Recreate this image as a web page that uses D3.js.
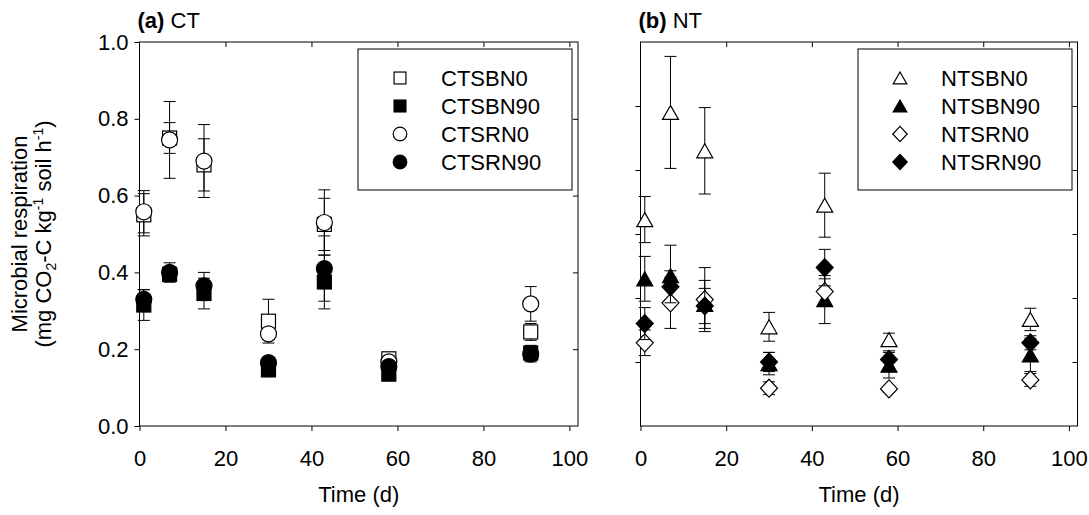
<!DOCTYPE html>
<html><head><meta charset="utf-8">
<script src="https://cdnjs.cloudflare.com/ajax/libs/d3/7.8.5/d3.min.js"></script>
<style>
html,body{margin:0;padding:0;background:#fff;}
svg{display:block;font-family:"Liberation Sans",Arial,sans-serif;}
</style></head>
<body><svg id="c" width="1089" height="515"></svg>
<script>
// ---- data ----
const days = [1, 7, 15, 30, 43, 58, 91];
const xTicks = [0, 20, 40, 60, 80, 100];
const yTicksA = [0, 0.2, 0.4, 0.6, 0.8, 1.0];
const yTicksB = [0.2, 0.4, 0.6, 0.8, 1.0];

const ctNames = ["CTSBN0", "CTSBN90", "CTSRN0", "CTSRN90"];
const CTSBN0 = [0.55, 0.75, 0.68, 0.273, 0.525, 0.175, 0.245];
const CTSBN0_se = [0.055, 0.04, 0.068, 0.057, 0.068, 0.01, 0.022];
const CTSBN90 = [0.315, 0.395, 0.345, 0.146, 0.375, 0.135, 0.19];
const CTSBN90_se = [0.04, 0.02, 0.04, 0.01, 0.07, 0.01, 0.02];
const CTSRN0 = [0.558, 0.745, 0.69, 0.24, 0.53, 0.167, 0.318];
const CTSRN0_se = [0.055, 0.1, 0.095, 0.01, 0.085, 0.01, 0.045];
const CTSRN90 = [0.33, 0.40, 0.365, 0.165, 0.41, 0.155, 0.187];
const CTSRN90_se = [0.025, 0.025, 0.035, 0.01, 0.085, 0.01, 0.02];

const ntNames = ["NTSBN0", "NTSBN90", "NTSRN0", "NTSRN90"];
const NTSBN0 = [0.645, 0.98, 0.86, 0.31, 0.69, 0.27, 0.333];
const NTSBN0_se = [0.072, 0.175, 0.135, 0.045, 0.1, 0.02, 0.035];
const NTSBN90 = [0.46, 0.47, 0.38, 0.195, 0.395, 0.19, 0.222];
const NTSBN90_se = [0.07, 0.095, 0.075, 0.035, 0.075, 0.04, 0.052];
const NTSRN0 = [0.26, 0.385, 0.395, 0.118, 0.42, 0.116, 0.144];
const NTSRN0_se = [0.04, 0.08, 0.1, 0.02, 0.04, 0.01, 0.02];
const NTSRN90 = [0.32, 0.435, 0.375, 0.2, 0.495, 0.208, 0.26];
const NTSRN90_se = [0.05, 0.05, 0.055, 0.03, 0.057, 0.027, 0.022];

// ---- drawing ----
const svg = d3.select("#c");
const FS = 22;
const plotTop = 42, plotBottom = 426;

function marker(g, type, fill, s) {
  let el;
  if (type === "square") {
    el = g.append("rect").attr("x", -7 * s).attr("y", -7 * s).attr("width", 14 * s).attr("height", 14 * s);
  } else if (type === "circle") {
    el = g.append("circle").attr("r", 8 * s);
  } else if (type === "triangle") {
    el = g.append("path").attr("d", `M0,${-7 * s}L${8 * s},${7 * s}L${-8 * s},${7 * s}Z`);
  } else {
    el = g.append("path").attr("d", `M0,${-9 * s}L${8.5 * s},0L0,${9 * s}L${-8.5 * s},0Z`);
  }
  el.attr("fill", fill).attr("stroke", "#000").attr("stroke-width", 1.2);
}

function panel(opts) {
  const x = d3.scaleLinear().domain([0, 102]).range(opts.xr);
  const y = d3.scaleLinear().domain(opts.yd).range([plotBottom, plotTop]);
  const g = svg.append("g");
  const ax = g.append("g").attr("transform", `translate(0,${plotBottom})`)
    .call(d3.axisBottom(x).tickValues(xTicks).tickSize(5).tickPadding(19).tickFormat(d3.format("d")));
  const axT = g.append("g").attr("transform", `translate(0,${plotTop})`)
    .call(d3.axisBottom(x).tickValues(xTicks.filter(d => d > 0)).tickSize(5).tickFormat(""));
  const ay = g.append("g").attr("transform", `translate(${opts.xr[0]},0)`)
    .call(d3.axisLeft(y).tickValues(opts.yTicks).tickSize(5).tickPadding(6)
      .tickFormat(opts.labels ? d3.format(".1f") : ""));
  const ayR = g.append("g").attr("transform", `translate(${x(102)},0)`)
    .call(d3.axisLeft(y).tickValues(opts.yTicks.filter(d => d > 0 && y(d) > plotTop + 2)).tickSize(5).tickFormat(""));
  [ax, axT, ay, ayR].forEach(a => {
    a.select(".domain").remove();
    a.selectAll("line").attr("stroke", "#000").attr("stroke-width", 1);
    a.selectAll("text").attr("font-size", FS).attr("fill", "#000").attr("font-family", "Liberation Sans, Arial, sans-serif");
  });
  g.append("rect").attr("x", x(0)).attr("y", plotTop).attr("width", x(102) - x(0)).attr("height", plotBottom - plotTop)
    .attr("fill", "none").attr("stroke", "#000").attr("stroke-width", 1);

  opts.series.forEach(s => {
    const sg = g.append("g");
    days.forEach((d, i) => {
      const cx = x(d), v = s.v[i], e = s.e[i];
      sg.append("line").attr("x1", cx).attr("x2", cx).attr("y1", y(v - e)).attr("y2", y(v + e))
        .attr("stroke", "#000").attr("stroke-width", 1);
      [v - e, v + e].forEach(t => sg.append("line").attr("x1", cx - 6).attr("x2", cx + 6)
        .attr("y1", y(t)).attr("y2", y(t)).attr("stroke", "#000").attr("stroke-width", 1));
    });
    days.forEach((d, i) => {
      const mg = sg.append("g").attr("transform", `translate(${x(d)},${y(s.v[i])})`);
      marker(mg, s.type, s.fill, 1);
    });
  });

  const lg = g.append("g");
  lg.append("rect").attr("x", opts.leg).attr("y", 49).attr("width", 214).attr("height", 141)
    .attr("fill", "#fff").attr("stroke", "#000").attr("stroke-width", 1);
  opts.series.forEach((s, i) => {
    const ry = 78 + i * 28;
    const mg = lg.append("g").attr("transform", `translate(${opts.leg + 42},${ry})`);
    marker(mg, s.type, s.fill, 0.85);
    lg.append("text").attr("x", opts.leg + 83).attr("y", ry + 8).attr("font-size", FS).text(s.name);
  });

  const t = g.append("text").attr("x", opts.xr[0] - 2).attr("y", 28).attr("font-size", FS);
  t.append("tspan").attr("font-weight", "bold").text(opts.tag);
  t.append("tspan").text(" " + opts.title);
  g.append("text").attr("x", (opts.xr[0] + opts.xr[1]) / 2).attr("y", 502).attr("text-anchor", "middle")
    .attr("font-size", FS).text("Time (d)");
}

panel({
  xr: [139.5, 578], yd: [0, 1], yTicks: yTicksA, labels: true, leg: 358, tag: "(a)", title: "CT",
  series: [
    {name: ctNames[0], v: CTSBN0, e: CTSBN0_se, type: "square", fill: "#fff"},
    {name: ctNames[1], v: CTSBN90, e: CTSBN90_se, type: "square", fill: "#000"},
    {name: ctNames[2], v: CTSRN0, e: CTSRN0_se, type: "circle", fill: "#fff"},
    {name: ctNames[3], v: CTSRN90, e: CTSRN90_se, type: "circle", fill: "#000"}
  ]
});
panel({
  xr: [640.5, 1077.5], yd: [0, 1.2], yTicks: yTicksB, labels: false, leg: 858, tag: "(b)", title: "NT",
  series: [
    {name: ntNames[0], v: NTSBN0, e: NTSBN0_se, type: "triangle", fill: "#fff"},
    {name: ntNames[1], v: NTSBN90, e: NTSBN90_se, type: "triangle", fill: "#000"},
    {name: ntNames[2], v: NTSRN0, e: NTSRN0_se, type: "diamond", fill: "#fff"},
    {name: ntNames[3], v: NTSRN90, e: NTSRN90_se, type: "diamond", fill: "#000"}
  ]
});

const yt = svg.append("g").attr("transform", "translate(0,234) rotate(-90)");
yt.append("text").attr("x", 0).attr("y", 27).attr("text-anchor", "middle").attr("font-size", FS).text("Microbial respiration");
const t2 = yt.append("text").attr("x", 0).attr("y", 51).attr("text-anchor", "middle").attr("font-size", FS);
t2.append("tspan").text("(mg CO");
t2.append("tspan").attr("font-size", 14).attr("dy", 5).text("2");
t2.append("tspan").attr("dy", -5).text("-C kg");
t2.append("tspan").attr("font-size", 14).attr("dy", -8).text("-1");
t2.append("tspan").attr("dy", 8).text(" soil h");
t2.append("tspan").attr("font-size", 14).attr("dy", -8).text("-1");
t2.append("tspan").attr("dy", 8).text(")");
</script></body></html>
